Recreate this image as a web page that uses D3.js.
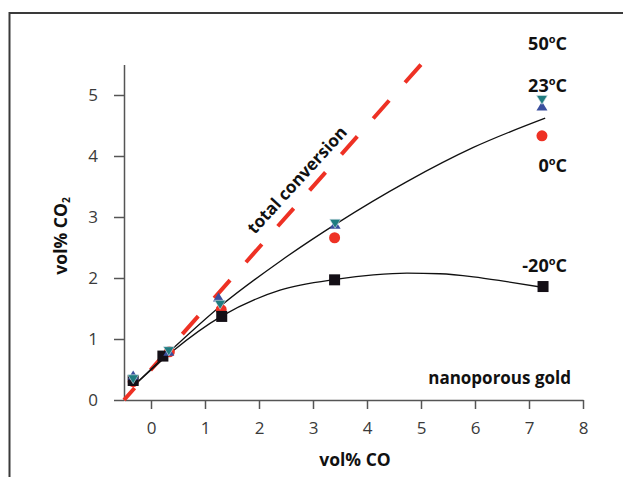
<!DOCTYPE html>
<html>
<head>
<meta charset="utf-8">
<script src="https://cdn.jsdelivr.net/npm/d3@7"></script>
<style>
  html, body { margin: 0; padding: 0; background: #fff; }
  svg { display: block; font-family: "Open Sans", "Noto Sans", sans-serif; }
</style>
</head>
<body>
<div id="chart"></div>
<script>
'use strict';

// ---- data ----
const xTicks = [0, 1, 2, 3, 4, 5, 6, 7, 8];
const yTicks = [0, 1, 2, 3, 4, 5];

// -20 C (black squares)
const m20X = [-0.33, 0.22, 1.31, 3.40, 7.26];
const m20Y = [0.32, 0.72, 1.37, 1.97, 1.86];
// 0 C (red circles)
const p0X = [-0.33, 0.34, 1.30, 3.40, 7.24];
const p0Y = [0.30, 0.79, 1.48, 2.66, 4.33];
// 23 C (teal down triangles)
const p23X = [-0.33, 0.33, 1.28, 3.41, 7.24];
const p23Y = [0.34, 0.80, 1.56, 2.89, 4.92];
// 50 C (blue up triangles)
const p50X = [-0.33, 0.33, 1.25, 3.41, 7.24];
const p50Y = [0.41, 0.80, 1.69, 2.88, 4.82];

// fitted curves
const fitUpX = [-0.30, 0.40, 1.30, 2.40, 3.45, 4.74, 5.97, 7.30];
const fitUpY = [0.25, 0.84, 1.55, 2.28, 2.90, 3.58, 4.14, 4.62];
const fitLoX = [-0.30, 0.40, 1.30, 2.39, 3.45, 4.12, 4.74, 5.35, 5.97, 6.59, 7.30];
const fitLoY = [0.25, 0.80, 1.37, 1.80, 1.98, 2.05, 2.08, 2.07, 2.02, 1.94, 1.84];

// total conversion line
const totalX = [-0.5, 5];
const totalY = [0, 5.5];

const W = 623, H = 477;
const svg = d3.select('#chart').append('svg').attr('width', W).attr('height', H);

// outer frame (runs off the right and bottom edges)
svg.append('rect').attr('x', 9.5).attr('y', 13).attr('width', 700).attr('height', 600)
    .attr('fill', 'none').attr('stroke', '#3a3a3a').attr('stroke-width', 2);

const x = d3.scaleLinear().domain([-0.5, 8]).range([124, 583]);
const y = d3.scaleLinear().domain([0, 5.5]).range([400, 64.5]);

const axisColor = '#555';
const gx = svg.append('g').attr('transform', 'translate(0,400)')
    .call(d3.axisBottom(x).tickValues(xTicks).tickFormat(d3.format('d'))
        .tickSize(9).tickSizeOuter(0).tickPadding(13));
const gy = svg.append('g').attr('transform', 'translate(124,0)')
    .call(d3.axisLeft(y).tickValues(yTicks).tickFormat(d3.format('d'))
        .tickSize(10).tickSizeOuter(0).tickPadding(16));
[gx, gy].forEach(g => {
    g.select('.domain').attr('stroke', axisColor).attr('stroke-width', 1.5);
    g.selectAll('.tick line').attr('stroke', axisColor).attr('stroke-width', 1.5);
    g.selectAll('.tick text').attr('fill', '#3a3a3a').attr('font-size', 17)
        .attr('font-family', '"Open Sans", sans-serif');
});

// axis titles
svg.append('text').attr('x', 355).attr('y', 466).attr('text-anchor', 'middle')
    .attr('font-size', 17.5).attr('font-weight', 'bold').attr('fill', '#111').text('vol% CO');
const yt = svg.append('text').attr('transform', 'translate(67,236) rotate(-90)')
    .attr('text-anchor', 'middle').attr('font-size', 17.5).attr('font-weight', 'bold').attr('fill', '#111');
yt.append('tspan').text('vol% CO');
yt.append('tspan').attr('font-size', 10).attr('dy', 3).text('2');

// total conversion dashed line
const line = d3.line().x(d => x(d[0])).y(d => y(d[1]));
svg.append('path').datum(d3.zip(totalX, totalY)).attr('d', line)
    .attr('fill', 'none').attr('stroke', '#ee3124').attr('stroke-width', 4)
    .attr('stroke-dasharray', '24,24').attr('stroke-dashoffset', 8);

svg.append('text').attr('transform', 'translate(297,180) rotate(-47.5)')
    .attr('text-anchor', 'middle').attr('dy', '0.35em')
    .attr('font-size', 17).attr('font-weight', 'bold').attr('fill', '#111').text('total conversion');

// fitted curves
const curve = d3.line().x(d => x(d[0])).y(d => y(d[1])).curve(d3.curveMonotoneX);
[[fitUpX, fitUpY], [fitLoX, fitLoY]].forEach(([xs, ys]) => {
    svg.append('path').datum(d3.zip(xs, ys)).attr('d', curve)
        .attr('fill', 'none').attr('stroke', '#111').attr('stroke-width', 1.3);
});

// markers
svg.append('g').selectAll('circle').data(d3.zip(p0X, p0Y)).join('circle')
    .attr('cx', d => x(d[0])).attr('cy', d => y(d[1])).attr('r', 5.5).attr('fill', '#ee3124');

svg.append('g').selectAll('rect').data(d3.zip(m20X, m20Y)).join('rect')
    .attr('x', d => x(d[0]) - 5.5).attr('y', d => y(d[1]) - 5.5)
    .attr('width', 11).attr('height', 11).attr('fill', '#140f16');

const tw = 5.5, th = 4.5;
svg.append('g').selectAll('path').data(d3.zip(p50X, p50Y)).join('path')
    .attr('d', d => {
        const cx = x(d[0]), cy = y(d[1]);
        return `M${cx - tw},${cy + th}L${cx + tw},${cy + th}L${cx},${cy - th}Z`;
    })
    .attr('fill', '#3a4f9e');

svg.append('g').selectAll('path').data(d3.zip(p23X, p23Y)).join('path')
    .attr('d', d => {
        const cx = x(d[0]), cy = y(d[1]);
        return `M${cx - tw},${cy - th}L${cx + tw},${cy - th}L${cx},${cy + th}Z`;
    })
    .attr('fill', '#1f7c80').attr('stroke', '#dfe8ee').attr('stroke-width', 0.6);

// series labels
function degLabel(txt, px, py) {
    const t = svg.append('text').attr('x', px).attr('y', py).attr('text-anchor', 'end')
        .attr('font-size', 18).attr('font-weight', 'bold').attr('fill', '#111');
    t.append('tspan').text(txt);
    t.append('tspan').attr('font-size', 11).attr('dy', -7).text('o');
    t.append('tspan').attr('dy', 7).text('C');
}
degLabel('50', 567, 50);
degLabel('23', 567, 91.5);
degLabel('0', 567, 171.5);
degLabel('-20', 567, 271.5);

svg.append('text').attr('x', 571).attr('y', 384).attr('text-anchor', 'end')
    .attr('font-size', 17).attr('font-weight', 'bold').attr('fill', '#111').text('nanoporous gold');
</script>
</body>
</html>
